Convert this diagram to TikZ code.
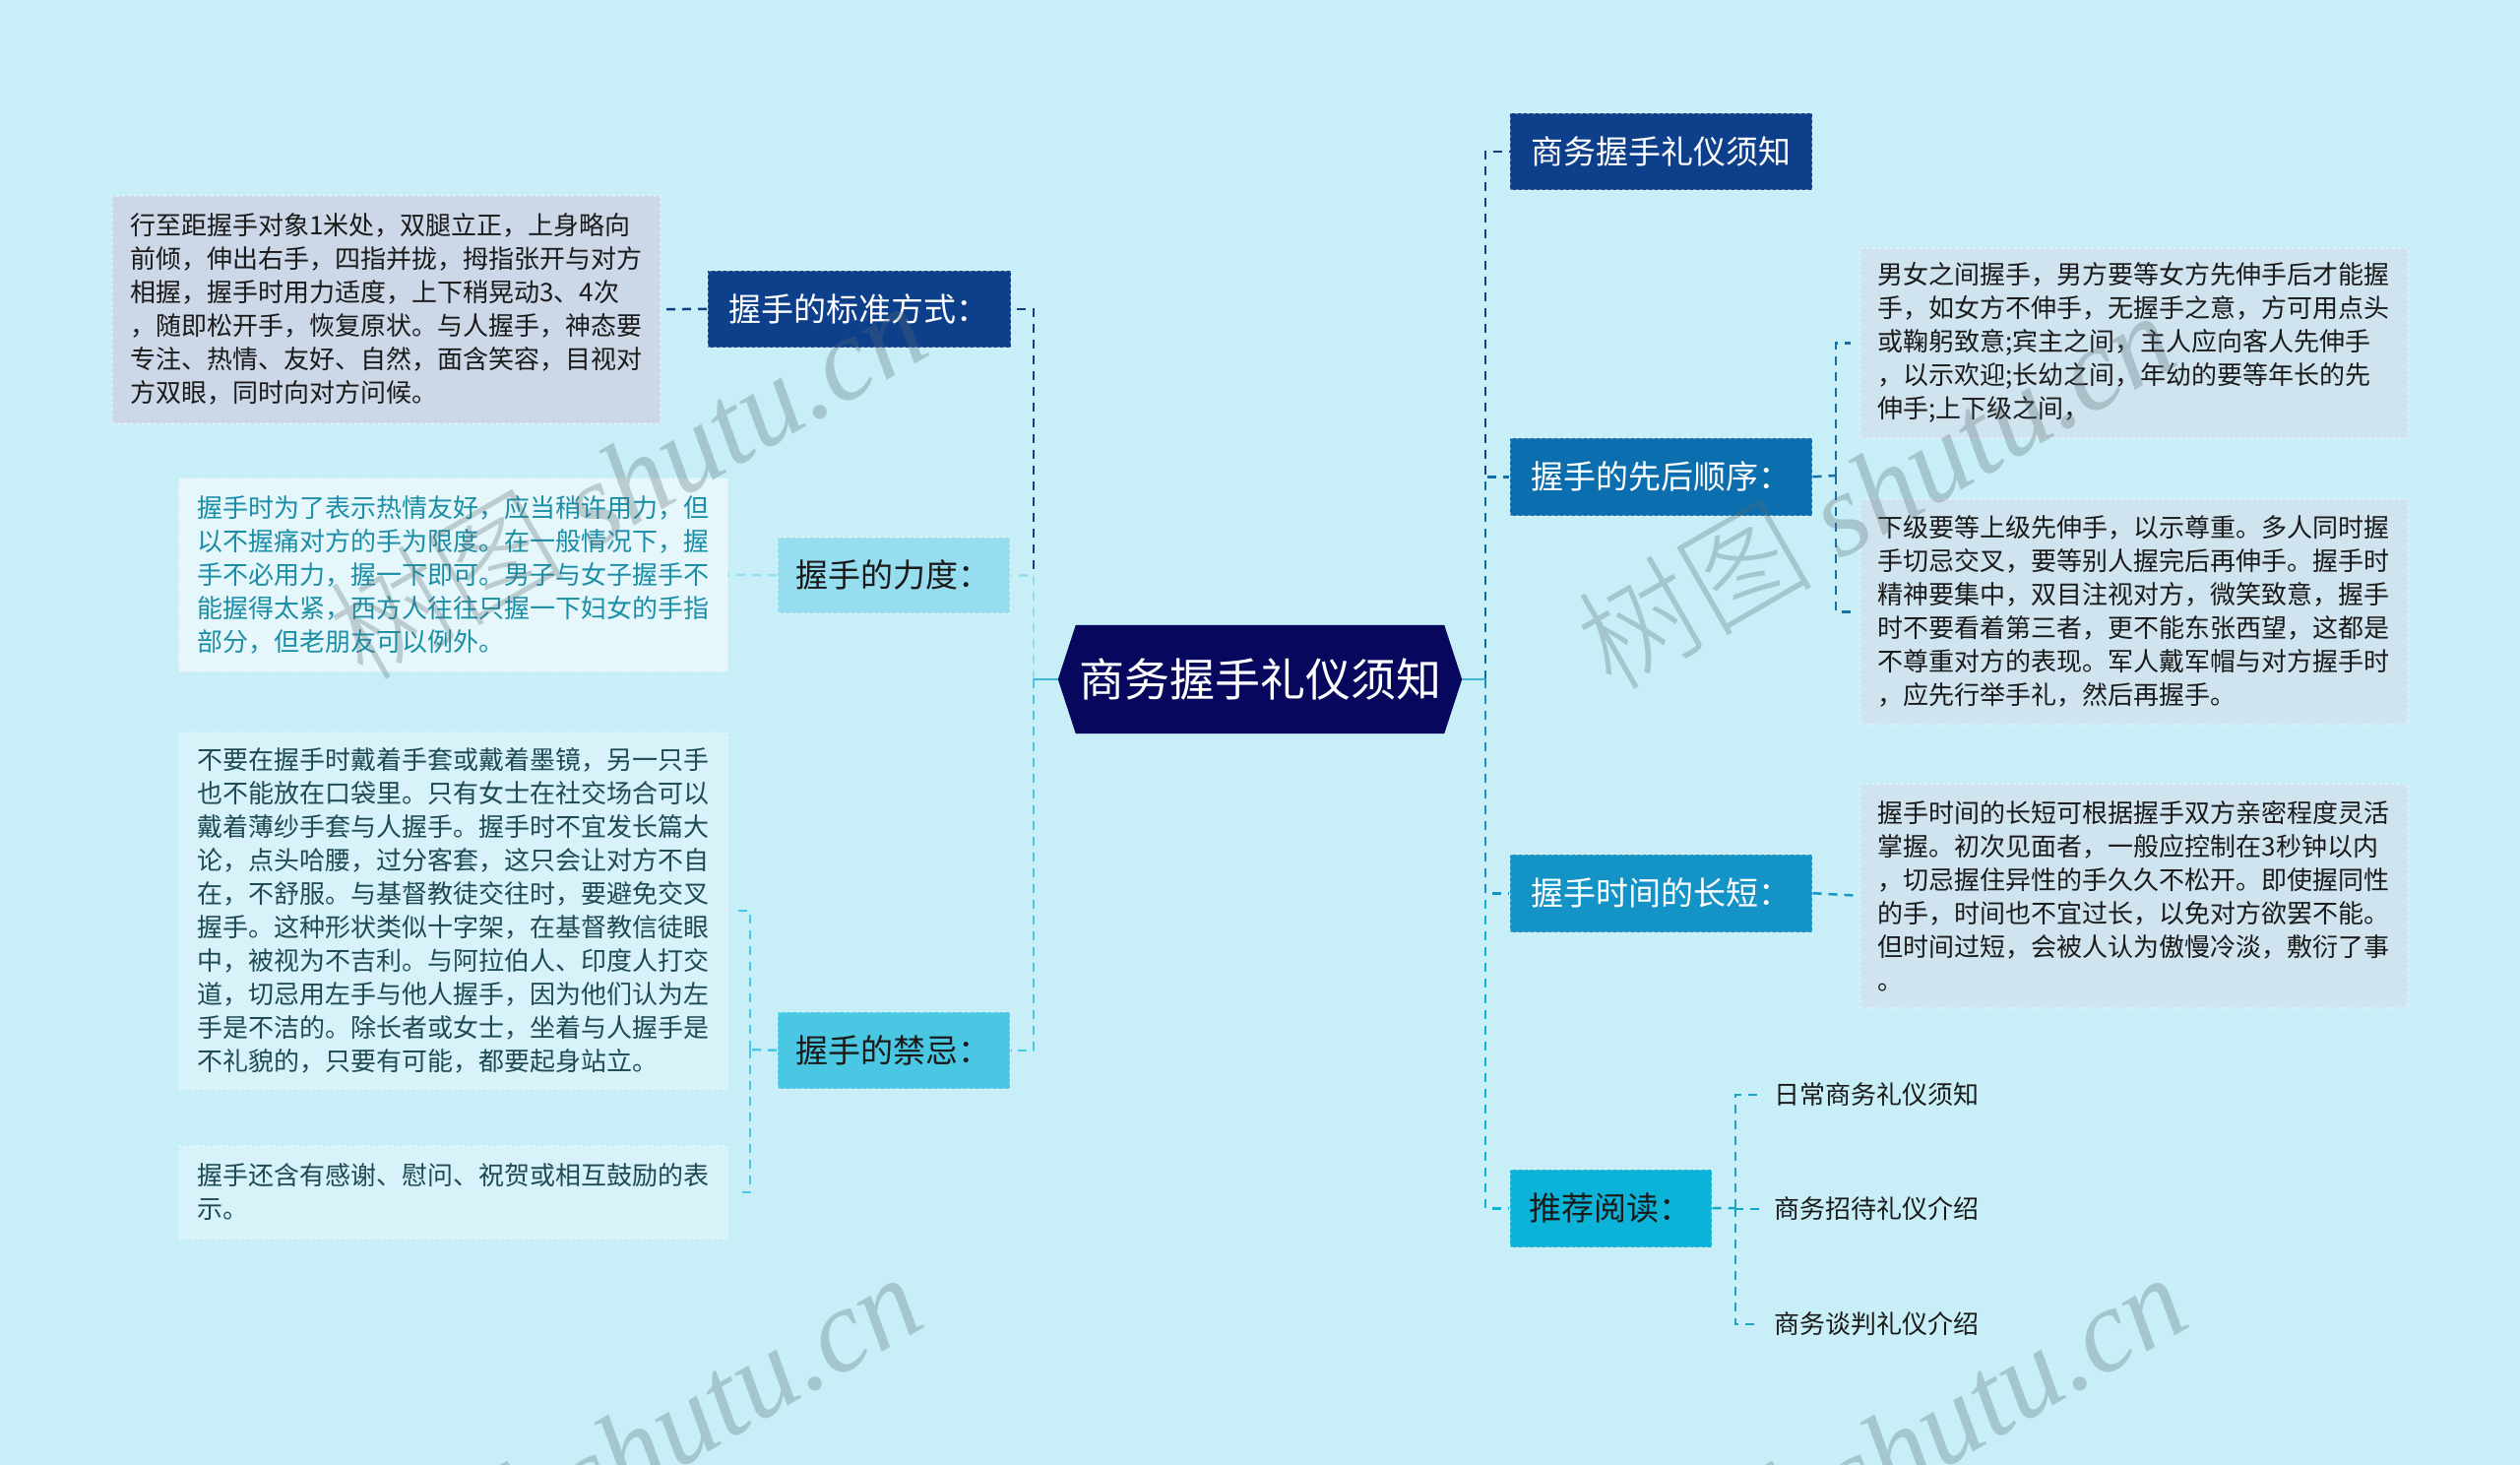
\documentclass[tikz,border=0pt]{standalone}
\usepackage{fontspec}
\setmainfont{Noto Sans CJK SC}
\newfontfamily\cjkfont{Noto Sans CJK SC Light}
\newfontfamily\wmlatin{Liberation Serif}
\definecolor{bg}{HTML}{C8EFF7}
\definecolor{navy}{HTML}{07075E}
\definecolor{cA}{HTML}{0D3F8B}
\definecolor{cB}{HTML}{95DDEF}
\definecolor{cC}{HTML}{4AC7E2}
\definecolor{cR2}{HTML}{0B6FAF}
\definecolor{cR3}{HTML}{1493C7}
\definecolor{cR4}{HTML}{0AB3D7}
\definecolor{tA}{HTML}{CCD7E7}
\definecolor{tB}{HTML}{E6F7FB}
\definecolor{tC}{HTML}{D7F3F9}
\definecolor{tR}{HTML}{CFE4EF}
\definecolor{txtB}{HTML}{1A8EA6}
\definecolor{txtC}{HTML}{1F4A55}
\definecolor{dark}{HTML}{1A1A1A}
\definecolor{trunk}{HTML}{3BB5D8}
\definecolor{eR2}{HTML}{1A6FA5}
\definecolor{eR3}{HTML}{1A93C6}
\definecolor{eR4}{HTML}{1AA5C8}
\definecolor{wmgray}{HTML}{5A6A70}
\begin{document}
\begin{tikzpicture}[x=1pt,y=-1pt,
  edge/.style={line width=2.5pt, dash pattern=on 9pt off 7pt},
  labbox/.style={font=\fontsize{33}{40}\selectfont, inner sep=0pt, anchor=north west,
    draw=white, draw opacity=0.35, dashed, line width=1.5pt},
  parabox/.style={font=\fontsize{26}{34}\selectfont, align=left, inner sep=0pt, anchor=north west,
    draw=white, draw opacity=0.35, dashed, line width=1.5pt},
  linktext/.style={font=\fontsize{26}{32}\selectfont, inner sep=0pt, anchor=west, text=dark},
  wm/.style={font=\fontsize{120}{130}\selectfont, text=wmgray, text opacity=0.3, inner sep=0pt, anchor=base east, rotate=30}
]
\useasboundingbox (0,0) rectangle (2560,1488);
\fill[bg] (0,0) rectangle (2560,1488);

% center node
\node (c) [minimum width=410pt, minimum height=110pt, inner sep=0pt] at (1280,690) {};
\fill[navy] (c.west) -- ([xshift=18pt]c.north west) -- ([xshift=-18pt]c.north east) -- (c.east)
  -- ([xshift=-18pt]c.south east) -- ([xshift=18pt]c.south west) -- cycle;
\node (ctext) [text=white, font=\fontsize{46}{54}\selectfont, inner sep=0pt] at (c.center) {商务握手礼仪须知};

% left branch boxes
\node (b1) [labbox, fill=cA, text=white, minimum width=308pt, minimum height=78pt] at (718,274) {握手的标准方式：};
\node (b2) [labbox, fill=cB, text=dark, minimum width=236pt, minimum height=77pt] at (789,545) {握手的力度：};
\node (b3) [labbox, fill=cC, text=dark, minimum width=236pt, minimum height=78pt] at (789,1027) {握手的禁忌：};

\node (t1) [parabox, fill=tA, text=dark, minimum width=557pt, minimum height=231pt] at (113,198) {%
行至距握手对象1米处，双腿立正，上身略向\\
前倾，伸出右手，四指并拢，拇指张开与对方\\
相握，握手时用力适度，上下稍晃动3、4次\\
，随即松开手，恢复原状。与人握手，神态要\\
专注、热情、友好、自然，面含笑容，目视对\\
方双眼，同时向对方问候。};
\node (t2) [parabox, fill=tB, text=txtB, minimum width=557pt, minimum height=196pt] at (181,485) {%
握手时为了表示热情友好，应当稍许用力，但\\
以不握痛对方的手为限度。在一般情况下，握\\
手不必用力，握一下即可。男子与女子握手不\\
能握得太紧，西方人往往只握一下妇女的手指\\
部分，但老朋友可以例外。};
\node (t3) [parabox, fill=tC, text=txtC, minimum width=557pt, minimum height=362pt] at (181,743) {%
不要在握手时戴着手套或戴着墨镜，另一只手\\
也不能放在口袋里。只有女士在社交场合可以\\
戴着薄纱手套与人握手。握手时不宜发长篇大\\
论，点头哈腰，过分客套，这只会让对方不自\\
在，不舒服。与基督教徒交往时，要避免交叉\\
握手。这种形状类似十字架，在基督教信徒眼\\
中，被视为不吉利。与阿拉伯人、印度人打交\\
道，切忌用左手与他人握手，因为他们认为左\\
手是不洁的。除长者或女士，坐着与人握手是\\
不礼貌的，只要有可能，都要起身站立。};
\node (t4) [parabox, fill=tC, text=txtC, minimum width=557pt, minimum height=94pt] at (181,1163) {%
握手还含有感谢、慰问、祝贺或相互鼓励的表\\
示。};

% right branch boxes
\node (R1) [labbox, fill=cA, text=white, minimum width=307pt, minimum height=78pt] at (1533,114) {商务握手礼仪须知};
\node (R2) [labbox, fill=cR2, text=white, minimum width=307pt, minimum height=79pt] at (1533,444) {握手的先后顺序：};
\node (R3) [labbox, fill=cR3, text=white, minimum width=307pt, minimum height=79pt] at (1533,867) {握手时间的长短：};
\node (R4) [labbox, fill=cR4, text=dark, minimum width=205pt, minimum height=79pt] at (1533,1187) {推荐阅读：};

\node (rt1) [parabox, fill=tR, text=dark, minimum width=556pt, minimum height=193pt] at (1889,251) {%
男女之间握手，男方要等女方先伸手后才能握\\
手，如女方不伸手，无握手之意，方可用点头\\
或鞠躬致意;宾主之间，主人应向客人先伸手\\
，以示欢迎;长幼之间，年幼的要等年长的先\\
伸手;上下级之间，};
\node (rt2) [parabox, fill=tR, text=dark, minimum width=556pt, minimum height=229pt] at (1889,506) {%
下级要等上级先伸手，以示尊重。多人同时握\\
手切忌交叉，要等别人握完后再伸手。握手时\\
精神要集中，双目注视对方，微笑致意，握手\\
时不要看着第三者，更不能东张西望，这都是\\
不尊重对方的表现。军人戴军帽与对方握手时\\
，应先行举手礼，然后再握手。};
\node (rt3) [parabox, fill=tR, text=dark, minimum width=556pt, minimum height=228pt] at (1889,795) {%
握手时间的长短可根据握手双方亲密程度灵活\\
掌握。初次见面者，一般应控制在3秒钟以内\\
，切忌握住异性的手久久不松开。即使握同性\\
的手，时间也不宜过长，以免对方欲罢不能。\\
但时间过短，会被人认为傲慢冷淡，敷衍了事\\
。};

\node (k1) [linktext] at (1802,1112) {日常商务礼仪须知};
\node (k2) [linktext] at (1802,1228) {商务招待礼仪介绍};
\node (k3) [linktext] at (1802,1345) {商务谈判礼仪介绍};

% left connectors
\coordinate (lt) at (1050,690);
\draw[edge, cC] (lt) |- (b3.east);
\draw[edge, cA] (lt) |- (b1.east);
\draw[edge, cB] (lt) |- (b2.east);
\draw[line width=2.5pt, trunk] (c.west) -- (lt);
\draw[edge, cA] (b1.west) -- (t1.east);
\draw[edge, cB] (b2.west) -- (t2.east);
\coordinate (l3) at (762,1066);
\draw[edge, cC] (b3.west) -- (l3);
\draw[edge, cC] (l3) |- ([xshift=9pt]t3.east);
\draw[edge, cC] (l3) |- ([xshift=9pt]t4.east);

% right connectors
\coordinate (rt) at (1509,690);
\draw[edge, cR4] (rt) |- (R4.west);
\draw[edge, cR3] (rt) |- (R3.west);
\draw[edge, cA] (rt) |- (R1.west);
\draw[edge, cR2] (rt) |- (R2.west);
\draw[line width=2.5pt, trunk] (c.east) -- (rt);
\coordinate (r2) at (1865,483);
\draw[edge, eR2] (R2.east) -- (r2);
\draw[edge, eR2] (r2) |- ([xshift=-9pt]rt1.west);
\draw[edge, eR2] (r2) |- ([xshift=-9pt]rt2.west);
\draw[edge, eR3] (R3.east) -- (rt3.west);
\coordinate (r4) at (1763,1227);
\draw[edge, eR4] (R4.east) -- (r4);
\draw[edge, eR4] (r4) |- ([xshift=-14pt]k1.west);
\draw[edge, eR4] (r4) |- ([xshift=-14pt]k2.west);
\draw[edge, eR4] (r4) |- ([xshift=-14pt]k3.west);

% watermarks
\node (w1) [wm] at (950,358) {\cjkfont 树图\ \wmlatin\itshape shutu.cn};
\node (w2) [wm] at (2218,368) {\cjkfont 树图\ \wmlatin\itshape shutu.cn};
\node (w3) [wm] at (945,1345) {\cjkfont 树图\ \wmlatin\itshape shutu.cn};
\node (w4) [wm] at (2230,1345) {\cjkfont 树图\ \wmlatin\itshape shutu.cn};
\end{tikzpicture}
\end{document}
